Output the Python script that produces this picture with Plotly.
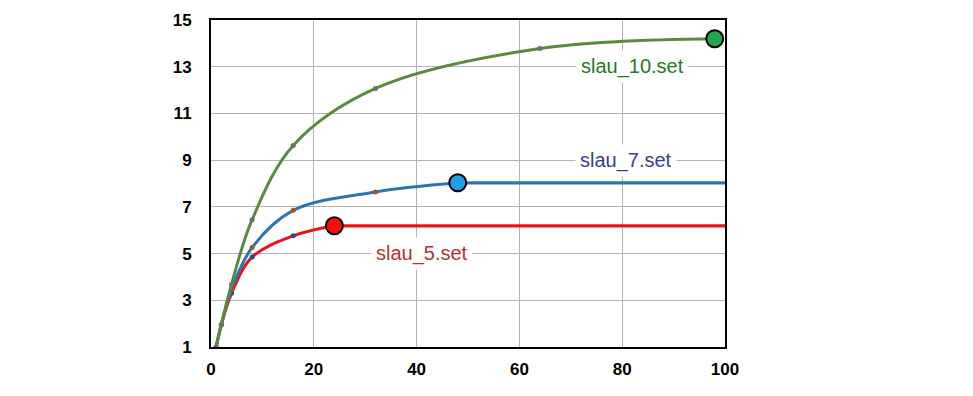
import plotly.graph_objects as go

# data
x10 = [1, 2, 4, 8, 16, 32, 64, 98]
y10 = [1, 1.95, 3.69, 6.45, 9.63, 12.07, 13.78, 14.2]
x7 = [1, 2, 4, 8, 16, 32, 48]
y7 = [1, 1.95, 3.47, 5.26, 6.85, 7.64, 8.03]
x5 = [1, 2, 4, 8, 16, 24]
y5 = [1, 1.95, 3.3, 4.85, 5.76, 6.19]
x_max = 100
x_ticks = [0, 20, 40, 60, 80, 100]
y_ticks = [1, 3, 5, 7, 9, 11, 13, 15]

series = [
    # name, x, y, line colour, small dot colour, big marker colour, flat tail, label x, label y, label colour
    ("slau_5.set", x5, y5, "#e8141a", "#2d4a7a", "#ff0a0a", True, 41, 5, "#b5303a"),
    ("slau_7.set", x7, y7, "#2e74b0", "#a0552a", "#1fa0e6", True, 80.7, 9, "#3b3c8f"),
    ("slau_10.set", x10, y10, "#5a8a3c", "#6f6f6f", "#22a84a", False, 82.1, 13, "#1f7a24"),
]

fig = go.Figure()
for name, xs, ys, lc, dc, bc, tail, lx, ly, tc in series:
    if tail:
        fig.add_trace(go.Scatter(x=[xs[-1], x_max], y=[ys[-1], ys[-1]], mode="lines",
                                 line=dict(color=lc, width=3.2), showlegend=False, hoverinfo="skip"))
    fig.add_trace(go.Scatter(x=xs, y=ys, mode="lines+markers",
                             line=dict(color=lc, width=3, shape="spline", smoothing=1.0),
                             marker=dict(color=dc, size=5),
                             showlegend=False, name=name))
    fig.add_trace(go.Scatter(x=[xs[-1]], y=[ys[-1]], mode="markers",
                             marker=dict(color=bc, size=17, line=dict(color="black", width=2)),
                             showlegend=False, hoverinfo="skip"))
    fig.add_annotation(x=lx, y=ly, text=name, showarrow=False,
                       font=dict(family="Liberation Sans, Arial", size=20, color=tc),
                       bgcolor="white", borderpad=4, xanchor="center", yanchor="middle")

fig.update_xaxes(range=[0, x_max], tickvals=x_ticks, showgrid=True, gridcolor="#b4b4b4", gridwidth=1,
                 showline=True, linecolor="black", linewidth=2, mirror=True, zeroline=False,
                 ticks="", ticklabelstandoff=6, automargin=False,
                 tickfont=dict(family="Liberation Sans, Arial", size=17, color="black", weight="bold"))
fig.update_yaxes(range=[1, 15], tickvals=y_ticks, showgrid=True, gridcolor="#b4b4b4", gridwidth=1,
                 showline=True, linecolor="black", linewidth=2, mirror=True, zeroline=False,
                 ticks="", ticklabelstandoff=14, automargin=False,
                 tickfont=dict(family="Liberation Sans, Arial", size=17, color="black", weight="bold"))
fig.update_layout(width=973, height=396, margin=dict(l=203, r=256, t=12, b=57, autoexpand=False),
                  plot_bgcolor="white", paper_bgcolor="white")
fig.write_html("out.html")
